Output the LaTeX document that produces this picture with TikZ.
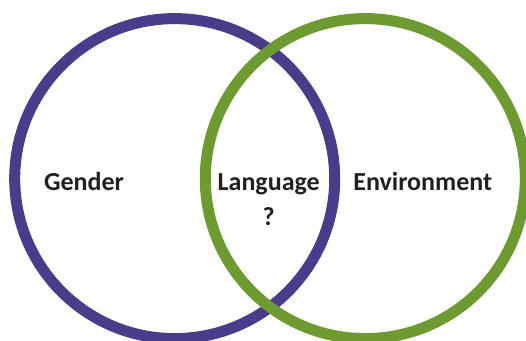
\documentclass[tikz,border=0pt]{standalone}
\usepackage{fontspec}
\setmainfont{Carlito}
\definecolor{vennpurple}{HTML}{4A3C8A}
\definecolor{venngreen}{HTML}{6E9A32}
\definecolor{wordblack}{HTML}{231F20}

\begin{document}
\begin{tikzpicture}[x=1pt,y=-1pt,
		ring/.style={circle, line width=11pt, minimum size=320pt, inner sep=0pt},
		word/.style={font=\bfseries\fontsize{26}{35}\selectfont, text=wordblack, align=center}]
		\useasboundingbox (0,0) rectangle (526,340);
		\path (174.7,178.6) node(gender)[ring, draw=vennpurple]{}
		(365.3,178.6) node(environment)[ring, draw=venngreen]{};
		\path (84,190) node(gendertext)[word, anchor=base]{Gender}
		(268.7,225) node(language)[word, anchor=base]{Language\\?}
		(422.7,190) node(environmenttext)[word, anchor=base]{Environment};
	\end{tikzpicture}
\end{document}
